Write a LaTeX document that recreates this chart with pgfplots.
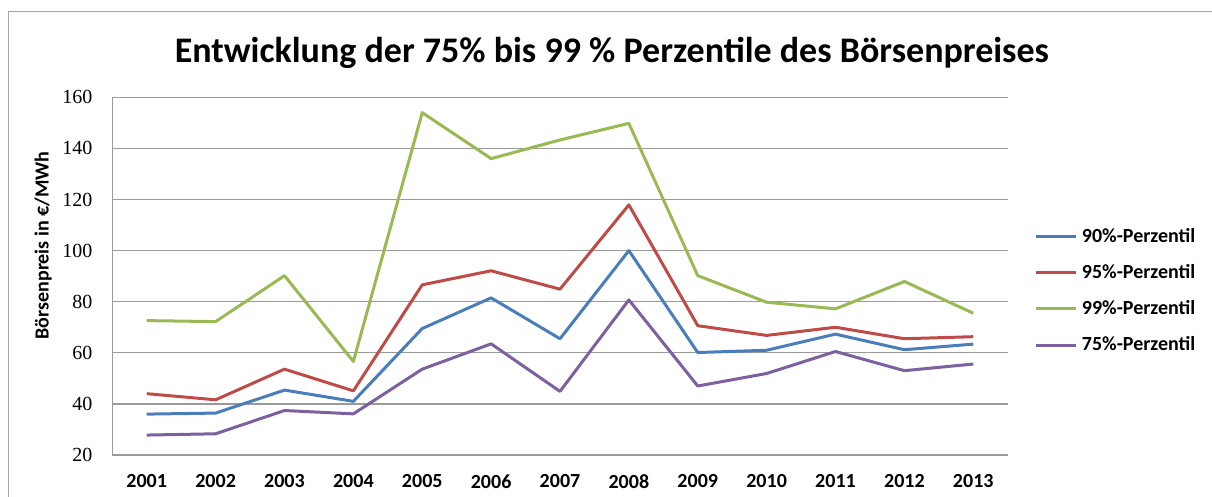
\documentclass[border=0pt]{standalone}
\usepackage{pgfplots}
\pgfplotsset{compat=1.18}
\usepackage{fontspec}
\setmainfont{Carlito}
\newfontfamily\cambria{Liberation Serif}
\definecolor{xlBlue}{HTML}{4A7EBB}
\definecolor{xlRed}{HTML}{BE4B48}
\definecolor{xlGreen}{HTML}{98B954}
\definecolor{xlPurple}{HTML}{7D60A0}
\definecolor{gridGray}{HTML}{9A9A9A}
\definecolor{frameGray}{HTML}{A6A6A6}

\begin{document}
\begin{tikzpicture}
  \useasboundingbox (0,0) rectangle (606pt,248.5pt);
  \clip (0,0) rectangle (606pt,248.5pt);
  % outer chart frame (runs off the right and bottom edges)
  \draw[frameGray, line width=0.5pt] (4pt,-10pt) rectangle (640pt,242.5pt);
  \begin{axis}[
      at={(56.15pt,21pt)}, anchor=south west,
      scale only axis,
      width=447.7pt, height=178.85pt,
      xmin=0.5, xmax=13.5,
      ymin=20, ymax=160,
      xtick={1,...,13},
      xticklabels={2001,2002,2003,2004,2005,2006,2007,2008,2009,2010,2011,2012,2013},
      ytick={20,40,...,160},
      axis x line*=bottom, axis y line*=left,
      axis line style={draw=gridGray, line width=0.7pt, -},
      ymajorgrids,
      major grid style={draw=gridGray, line width=0.65pt},
      major tick length=0pt,
      /pgf/number format/assume math mode=true,
      xticklabel style={font=\bfseries\fontsize{10}{12}\selectfont, anchor=north, inner sep=0pt, yshift=-9.5pt},
      yticklabel style={font=\cambria\fontsize{10}{12}\selectfont, anchor=east, inner sep=0pt, xshift=-9.8pt},
      ylabel={Börsenpreis in €/MWh},
      every axis y label/.style={at={(rel axis cs:0,0.586)}, xshift=-34.5pt, rotate=90, anchor=center,
        font=\bfseries\fontsize{10}{12}\selectfont},
      title={Entwicklung der 75\% bis 99 \% Perzentile des Börsenpreises},
      title style={at={(rel axis cs:0.558,1.09)}, anchor=center, font=\bfseries\fontsize{18}{21}\selectfont},
      legend style={at={(rel axis cs:1.03,0.646)}, anchor=north west, draw=none, fill=none,
        font=\bfseries\fontsize{10}{12}\selectfont, row sep=5.5pt, inner sep=0pt},
      legend cell align=left,
      legend image code/.code={\draw[#1, line width=1.5pt] (0pt,0pt) -- (20pt,0pt);},
      every axis plot/.append style={line width=1.5pt, no markers, line join=round},
    ]
    \addplot[xlBlue] coordinates {
      (1,36.0) (2,36.4) (3,45.4) (4,41.0) (5,69.5) (6,81.5) (7,65.5)
      (8,100.0) (9,60.1) (10,61.0) (11,67.3) (12,61.2) (13,63.4)};
    \addlegendentry{90\%-Perzentil}
    \addplot[xlRed] coordinates {
      (1,44.0) (2,41.6) (3,53.6) (4,45.1) (5,86.6) (6,92.1) (7,84.9)
      (8,117.9) (9,70.6) (10,66.8) (11,70.0) (12,65.5) (13,66.3)};
    \addlegendentry{95\%-Perzentil}
    \addplot[xlGreen] coordinates {
      (1,72.6) (2,72.2) (3,90.2) (4,56.6) (5,154.0) (6,136.0) (7,143.3)
      (8,149.8) (9,90.2) (10,79.8) (11,77.2) (12,87.9) (13,75.5)};
    \addlegendentry{99\%-Perzentil}
    \addplot[xlPurple] coordinates {
      (1,27.8) (2,28.3) (3,37.4) (4,36.1) (5,53.6) (6,63.5) (7,44.9)
      (8,80.7) (9,47.0) (10,51.9) (11,60.5) (12,53.0) (13,55.6)};
    \addlegendentry{75\%-Perzentil}
  \end{axis}
\end{tikzpicture}
\end{document}
